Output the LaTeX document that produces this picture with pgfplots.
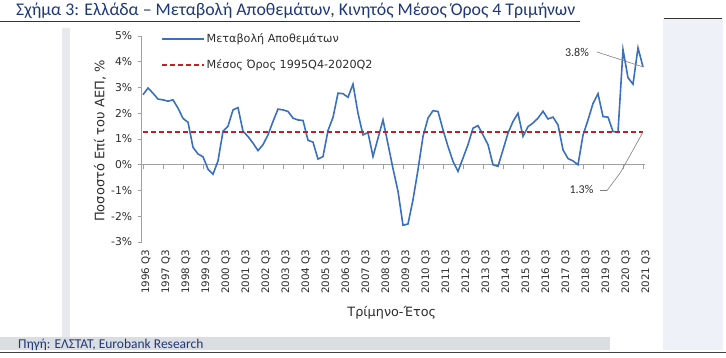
\documentclass[border=0pt]{standalone}
\usepackage{pgfplots}
\pgfplotsset{compat=1.18}
\usepackage{fontspec}
\setmainfont{DejaVu Sans}
\newfontfamily\titlefont{Carlito}
\definecolor{navy}{RGB}{31,56,120}
\definecolor{lineblue}{RGB}{58,112,192}
\definecolor{avgred}{RGB}{200,30,35}
\definecolor{panelgray}{RGB}{232,233,236}
\definecolor{bandblue}{RGB}{238,241,247}
\definecolor{srcgray}{RGB}{218,221,226}
\definecolor{axgray}{RGB}{160,160,160}
\definecolor{txt}{RGB}{45,45,45}

\begin{document}
\begin{tikzpicture}[x=1pt,y=1pt]
\useasboundingbox (0,0) rectangle (726,357);
\fill[white] (0,0) rectangle (726,357);
\fill[bandblue] (663,7) rectangle (723,339);
\fill[srcgray] (0,7) rectangle (610,20);
\fill[panelgray] (62,20) rectangle (70,329);
\fill[white] (70,20) rectangle (663,329);
\draw[black!75, line width=0.8pt] (0,5) -- (726,5);
\draw[black!80, line width=0.8pt] (0,336) -- (580,336);
\draw[black!80, line width=0.8pt] (664,339) -- (722,339);
\node[anchor=base west, inner sep=0pt, text=navy, font=\titlefont\fontsize{17.8}{20}\selectfont] at (16,341) {Σχήμα 3: Ελλάδα – Μεταβολή Αποθεμάτων, Κινητός Μέσος Όρος 4 Τριμήνων};
\node[anchor=base west, inner sep=0pt, text=navy, font=\titlefont\fontsize{13.5}{15}\selectfont] at (18,9) {Πηγή: ΕΛΣΤΑΤ, Eurobank Research};

\begin{axis}[
  at={(141.7pt,115pt)}, anchor=south west,
  scale only axis, width=503.3pt, height=206pt,
  xmin=-0.26, xmax=100.4, ymin=-3, ymax=5,
  clip=false,
  axis lines*=left,
  x axis line style={draw=none},
  y axis line style={axgray, line width=0.7pt},
  tick align=outside,
  major tick length=4pt,
  xtick style={draw=none},
  ytick style={axgray, line width=0.7pt},
  ytick={-3,-2,-1,0,1,2,3,4,5},
  yticklabels={-3\%,-2\%,-1\%,0\%,1\%,2\%,3\%,4\%,5\%},
  yticklabel style={font=\fontsize{10.8}{12}\selectfont, text=txt, xshift=-2pt},
  xtick={0,4,...,100},
  xticklabels={1996 Q3,1997 Q3,1998 Q3,1999 Q3,2000 Q3,2001 Q3,2002 Q3,2003 Q3,2004 Q3,2005 Q3,2006 Q3,2007 Q3,2008 Q3,2009 Q3,2010 Q3,2011 Q3,2012 Q3,2013 Q3,2014 Q3,2015 Q3,2016 Q3,2017 Q3,2018 Q3,2019 Q3,2020 Q3,2021 Q3},
  xticklabel style={rotate=90, anchor=east, font=\fontsize{10.3}{11}\selectfont, text=txt, yshift=-3pt},
  xlabel={Τρίμηνο-Έτος},
  ylabel={Ποσοστό Επί του ΑΕΠ, \%},
  every axis x label/.style={at={(axis description cs:0.497,-0.345)}, anchor=center, font=\fontsize{12.8}{14}\selectfont, text=txt},
  every axis y label/.style={at={(axis description cs:-0.083,0.49)}, rotate=90, anchor=center, font=\fontsize{13}{14}\selectfont, text=txt},
]
\draw[axgray, line width=0.7pt] (axis cs:-0.26,0) -- (axis cs:100.4,0);
\pgfplotsinvokeforeach{0,4,8,12,16,20,24,28,32,36,40,44,48,52,56,60,64,68,72,76,80,84,88,92,96,100}{\draw[axgray, line width=0.7pt] (axis cs:#1,0) -- (axis cs:#1,-0.18);}

\addplot[draw=lineblue, line width=1.6pt] table {
x y
0 2.72
1 2.98
2 2.78
3 2.55
4 2.52
5 2.47
6 2.52
7 2.20
8 1.80
9 1.65
10 0.68
11 0.42
12 0.31
13 -0.17
14 -0.37
15 0.15
16 1.30
17 1.50
18 2.13
19 2.22
20 1.30
21 1.10
22 0.84
23 0.55
24 0.78
25 1.16
26 1.68
27 2.16
28 2.13
29 2.07
30 1.81
31 1.74
32 1.72
33 0.95
34 0.88
35 0.22
36 0.32
37 1.33
38 1.84
39 2.78
40 2.76
41 2.62
42 3.13
43 2.00
44 1.16
45 1.25
46 0.32
47 1.03
48 1.74
49 0.80
50 -0.15
51 -1.03
52 -2.35
53 -2.30
54 -1.36
55 -0.19
56 1.10
57 1.81
58 2.10
59 2.07
60 1.36
61 0.71
62 0.13
63 -0.26
64 0.26
65 0.78
66 1.42
67 1.52
68 1.16
69 0.78
70 0.00
71 -0.06
72 0.58
73 1.23
74 1.68
75 2.00
76 1.10
77 1.48
78 1.62
79 1.81
80 2.08
81 1.78
82 1.85
83 1.55
84 0.58
85 0.24
86 0.15
87 0.00
88 1.15
89 1.74
90 2.38
91 2.76
92 1.87
93 1.85
94 1.29
95 1.27
96 4.47
97 3.38
98 3.13
99 4.54
100 3.80
};
\addplot[draw=avgred, line width=1.6pt, dash pattern=on 5pt off 3pt] coordinates {(0,1.27) (100,1.27)};

% legend
\draw[lineblue, line width=1.6pt] (axis cs:3.8,4.88) -- (axis cs:12.2,4.88);
\node[anchor=west, inner sep=0pt, text=txt, font=\fontsize{11.2}{12}\selectfont] at (axis cs:12.7,4.88) {Μεταβολή Αποθεμάτων};
\draw[avgred, line width=1.6pt, dash pattern=on 5pt off 3pt] (axis cs:3.8,3.88) -- (axis cs:12.2,3.88);
\node[anchor=west, inner sep=0pt, text=txt, font=\fontsize{11.2}{12}\selectfont] at (axis cs:12.7,3.88) {Μέσος Όρος 1995Q4-2020Q2};

\node[font=\titlefont\fontsize{12}{14}\selectfont, text=txt] at (axis cs:86.8,4.38) {3.8\%};
\draw[gray, line width=0.6pt] (axis cs:90.8,4.38) -- (axis cs:100,3.8);
\node[font=\titlefont\fontsize{12}{14}\selectfont, text=txt] at (axis cs:87.7,-0.97) {1.3\%};
\draw[gray, line width=0.6pt] (axis cs:91.4,-1) -- (axis cs:92.8,-1) -- (axis cs:95.5,-0.3) -- (axis cs:100,1.27);
\end{axis}
\end{tikzpicture}
\end{document}
